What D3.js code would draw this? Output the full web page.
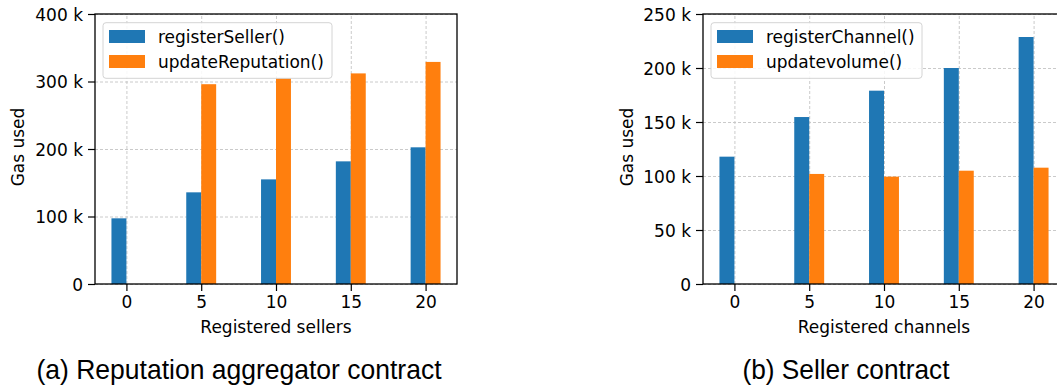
<!DOCTYPE html>
<html>
<head>
<meta charset="utf-8">
<script src="https://cdn.jsdelivr.net/npm/d3@7"></script>
<style>
  body { margin: 0; background: #fff; }
  svg { display: block; }
  .tick text { font-family: "DejaVu Sans", sans-serif; font-size: 17px; fill: #000; }
</style>
</head>
<body>
<svg id="chart" width="1057" height="388"></svg>
<script>
// x positions shared by both panels
const xValues = [0, 5, 10, 15, 20];

// (a) Reputation aggregator contract
const sellerRegister = [97300, 135800, 155000, 181700, 202500];
const sellerUpdate = [null, 296000, 305000, 312000, 329000];
const sellerTicks = [0, 100000, 200000, 300000, 400000];

// (b) Seller contract
const channelRegister = [117900, 154600, 179000, 200000, 228700];
const channelUpdate = [null, 101900, 99400, 104900, 107700];
const channelTicks = [0, 50000, 100000, 150000, 200000, 250000];

const blue = '#1f77b4', orange = '#ff7f0e';
const svg = d3.select('#chart');

function drawPanel(opts) {
  const { left, top, w, h, yMax, yTicks, blueVals, orangeVals, names, xLabel, caption, capX, capLen } = opts;
  const g = svg.append('g').attr('transform', `translate(${left},${top})`);

  const x = d3.scaleLinear().domain([-2.1, 22.1]).range([0, w]);
  const y = d3.scaleLinear().domain([0, yMax]).range([h, 0]);

  // grid
  g.append('g')
    .attr('transform', `translate(0,${h})`)
    .call(d3.axisBottom(x).tickValues(xValues).tickSize(-h).tickFormat(''))
    .call(a => a.select('.domain').remove())
    .selectAll('line').attr('stroke', '#c4c4c4').attr('stroke-dasharray', '3,2').attr('stroke-width', 0.9);
  g.append('g')
    .call(d3.axisLeft(y).tickValues(yTicks).tickSize(-w).tickFormat(''))
    .call(a => a.select('.domain').remove())
    .selectAll('line').attr('stroke', '#c4c4c4').attr('stroke-dasharray', '3,2').attr('stroke-width', 0.9);

  // bars
  g.append('g').selectAll('rect')
    .data(xValues.map((v, i) => ({ v, val: blueVals[i] })).filter(d => d.val != null))
    .join('rect')
    .attr('x', d => x(d.v - 1)).attr('width', d => x(d.v) - x(d.v - 1))
    .attr('y', d => y(d.val)).attr('height', d => h - y(d.val))
    .attr('fill', blue);
  g.append('g').selectAll('rect')
    .data(xValues.map((v, i) => ({ v, val: orangeVals[i] })).filter(d => d.val != null))
    .join('rect')
    .attr('x', d => x(d.v)).attr('width', d => x(d.v + 1) - x(d.v))
    .attr('y', d => y(d.val)).attr('height', d => h - y(d.val))
    .attr('fill', orange);

  // frame
  g.append('rect').attr('width', w).attr('height', h)
    .attr('fill', 'none').attr('stroke', '#000').attr('stroke-width', 1.3);

  // axes
  g.append('g')
    .attr('transform', `translate(0,${h})`)
    .call(d3.axisBottom(x).tickValues(xValues).tickSize(7).tickPadding(5).tickFormat(d3.format('d')))
    .call(a => a.select('.domain').remove())
    .selectAll('line').attr('stroke', '#000').attr('stroke-width', 1.2);
  g.append('g')
    .call(d3.axisLeft(y).tickValues(yTicks).tickSize(7).tickPadding(5)
      .tickFormat(d => d === 0 ? '0' : (d / 1000) + ' k'))
    .call(a => a.select('.domain').remove())
    .call(a => a.selectAll('text').attr('dy', '0.36em'))
    .selectAll('line').attr('stroke', '#000').attr('stroke-width', 1.2);

  // axis labels
  g.append('text')
    .attr('x', x(10)).attr('y', h + 49)
    .attr('text-anchor', 'middle')
    .style('font-family', 'DejaVu Sans, sans-serif').style('font-size', '17px')
    .text(xLabel);
  g.append('text')
    .attr('transform', `translate(${opts.yLabelX - left},${h / 2 - 2}) rotate(-90)`)
    .attr('text-anchor', 'middle').attr('dy', '0.35em')
    .style('font-family', 'DejaVu Sans, sans-serif').style('font-size', '17px')
    .text('Gas used');

  // legend
  const lg = g.append('g').attr('transform', 'translate(8,8.7)');
  lg.append('rect')
    .attr('width', opts.legendW).attr('height', 55.6).attr('rx', 3)
    .attr('fill', '#fff').attr('fill-opacity', 0.85)
    .attr('stroke', '#d4d4d4').attr('stroke-width', 1);
  [[names[0], blue], [names[1], orange]].forEach(([name, c], i) => {
    lg.append('rect').attr('x', 6).attr('y', 7.3 + i * 25).attr('width', 36).attr('height', 13).attr('fill', c);
    lg.append('text').attr('x', 55).attr('y', 14 + i * 25).attr('dy', '0.36em')
      .style('font-family', 'DejaVu Sans, sans-serif').style('font-size', '17px')
      .text(name);
  });

  // caption
  svg.append('text')
    .attr('x', capX).attr('y', 379)
    .attr('textLength', capLen).attr('lengthAdjust', 'spacingAndGlyphs')
    .style('font-family', 'Liberation Sans, Arial, sans-serif').style('font-size', '27.5px')
    .text(caption);
}

drawPanel({
  left: 95, top: 14, w: 362, h: 270, yMax: 400000, yTicks: sellerTicks,
  blueVals: sellerRegister, orangeVals: sellerUpdate,
  names: ['registerSeller()', 'updateReputation()'],
  xLabel: 'Registered sellers', yLabelX: 18, legendW: 229,
  caption: '(a) Reputation aggregator contract', capX: 36.5, capLen: 405
});

drawPanel({
  left: 703, top: 14, w: 362, h: 270, yMax: 250000, yTicks: channelTicks,
  blueVals: channelRegister, orangeVals: channelUpdate,
  names: ['registerChannel()', 'updatevolume()'],
  xLabel: 'Registered channels', yLabelX: 627, legendW: 211,
  caption: '(b) Seller contract', capX: 742.5, capLen: 207
});
</script>
</body>
</html>
